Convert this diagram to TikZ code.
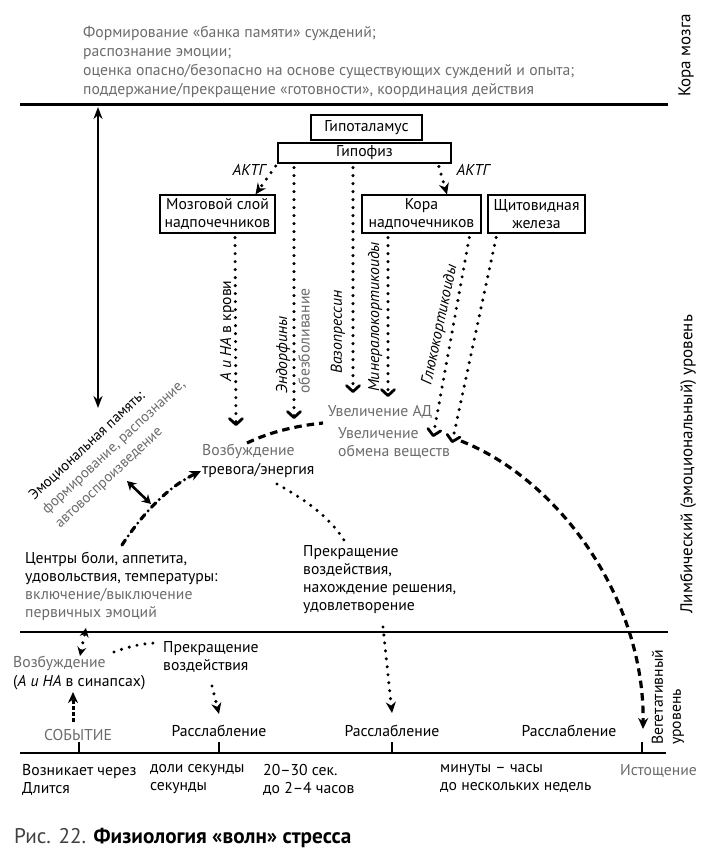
\documentclass[tikz,border=0pt]{standalone}
\usepackage{fontspec}
\setmainfont{PT Sans}
\usetikzlibrary{arrows.meta}
\definecolor{gtxt}{gray}{0.42}
\definecolor{captg}{gray}{0.25}
\newcommand\myfs{\fontsize{15.7}{19}\selectfont}
\newcommand\myfsb{\fontsize{15.7}{18}\selectfont}
\newcommand\myfss{\fontsize{17}{20}\selectfont}
\newcommand\myfse{\fontsize{14.6}{19}\selectfont}
\tikzset{
  box/.style={draw, line width=1.2pt, inner sep=0pt, align=center, font=\myfsb},
  lbl/.style={inner sep=0pt, font=\myfs},
  gr/.style={text=gtxt},
  itl/.style={font=\myfs\itshape},
  dots/.style={line width=3.4pt, line cap=round, dash pattern=on 0pt off 8pt},
  dashes/.style={line width=3.2pt, dash pattern=on 7.5pt off 5pt},
  dashdot/.style={line width=3.2pt, line cap=round, dash pattern=on 6pt off 5pt on 0pt off 5pt},
  vtip/.style={-{Straight Barb[length=6pt,width=13pt,line width=2.8pt,round]}},
  ttip/.style={-{Stealth[length=11pt,width=10pt,inset=3.5pt]}},
  dtip/.style={{Stealth[length=9pt,width=9pt,inset=3pt]}-{Stealth[length=9pt,width=9pt,inset=3pt]}},
  lvl/.style={line width=2.6pt},
}
\begin{document}
\begin{tikzpicture}[x=1pt,y=-1pt]
\useasboundingbox (0,0) rectangle (714,865);
% level lines
\coordinate (L1a) at (20,104); \coordinate (L1b) at (668,104);
\coordinate (L2a) at (20,632); \coordinate (L2b) at (668,632);
\coordinate (L3a) at (20,753); \coordinate (L3b) at (666,753);
\draw[line width=3pt] (L1a) -- (L1b);
\draw[lvl] (L2a) -- (L2b);
\draw[lvl] (L3a) -- (L3b);
\foreach \x in {79,219,392,642} \draw[line width=2.2pt] (\x,742) -- (\x,753);

% cortex text
\node[lbl,gr,anchor=north west,align=left] (cortex) at (83,26)
 {Формирование «банка памяти» суждений;\\распознание эмоции;\\оценка опасно/безопасно на основе существующих суждений и опыта;\\поддержание/прекращение «готовности», координация действия};
\node[lbl,rotate=90,anchor=west,font=\myfss] (kora) at (686,97) {Кора мозга};
\node[lbl,rotate=90,anchor=west,font=\myfss] (limb) at (688,614) {Лимбический (эмоциональный) уровень};
\node[lbl,rotate=90,align=left,font=\myfsb,anchor=west] (veg) at (668,745) {Вегетативный\\уровень};

% boxes
\node[box,minimum width=111pt,minimum height=25pt] (hyp) at (366.5,127.5) {Гипоталамус};
\node[box,minimum width=173pt,minimum height=20pt] (pit) at (364.5,153) {Гипофиз};
\node[box,minimum width=115pt,minimum height=38pt] (med) at (217.5,214) {Мозговой слой\\надпочечников};
\node[box,minimum width=119pt,minimum height=38pt] (cort) at (421.5,214) {Кора\\надпочечников};
\node[box,minimum width=97pt,minimum height=38pt] (thy) at (536.5,214) {Щитовидная\\железа};
\node[lbl,itl] (aktg1) at (249,170) {АКТГ};
\node[lbl,itl] (aktg2) at (473,170) {АКТГ};

% hormone arrows
\coordinate (eAHA) at (236,426);
\coordinate (eEnd) at (294,419);
\coordinate (eVas) at (353,393);
\coordinate (eMin) at (388,397);
\coordinate (eGlu) at (433,437);
\coordinate (eThy) at (452,443);
\draw[dots,ttip,shorten <=3pt] (pit.south west) -- ([xshift=38pt]med.north);
\draw[dots,ttip,shorten <=3pt] ([xshift=73.5pt]pit.south) -- ([xshift=25.5pt]cort.north);
\draw[dots,vtip,shorten <=4pt] ([xshift=17.5pt]med.south) -- (eAHA);
\draw[dots,vtip,shorten <=4pt] ([xshift=-70.5pt]pit.south) -- (eEnd);
\draw[dots,vtip,shorten <=4pt] ([xshift=-11.5pt]pit.south) -- (eVas);
\draw[dots,vtip,shorten <=4pt] ([xshift=-33.5pt]cort.south) -- (eMin);
\draw[dots,vtip,shorten <=4pt] ([xshift=48.5pt]cort.south) -- (eGlu);
\draw[dots,vtip,shorten <=4pt] ([xshift=-39.5pt]thy.south) -- (eThy);

\node[lbl,rotate=90] (lAHA) at (227,331) {\itshape А и НА\upshape{} в крови};
\node[lbl,itl,rotate=90] (lEnd) at (283,355) {Эндорфины};
\node[lbl,gr,rotate=90] (lAna) at (304,341) {обезболивание};
\node[lbl,itl,rotate=90] (lVas) at (338,332) {Вазопрессин};
\node[lbl,itl,rotate=90] (lMin) at (375,317) {Минералокортикоиды};
\node[lbl,itl,rotate=78] (lGlu) at (440,325) {Глюкокортикоиды};

% middle labels
\node[lbl,gr] (bp) at (380,412) {Увеличение АД};
\node[lbl,gr,anchor=north west,align=left,font=\myfsb] (metab) at (338,427) {Увеличение\\обмена веществ};
\node[lbl,anchor=north west,align=left] (arous) at (202,444) {\textcolor{gtxt}{Возбуждение}\\тревога/энергия};
\node[lbl,anchor=north west,align=left,font=\myfsb] (stop1) at (303,545) {Прекращение\\воздействия,\\нахождение решения,\\удовлетворение};
\node[lbl,anchor=north west,align=left,font=\myfsb] (cent) at (25,552) {Центры боли, аппетита,\\удовольствия, температуры:\\\textcolor{gtxt}{включение/выключение}\\\textcolor{gtxt}{первичных эмоций}};
\node[lbl,rotate=43,anchor=north west,align=left,font=\myfse] (emo) at (27,493) {Эмоциональная память:\\\textcolor{gtxt}{формирование, распознание,}\\\textcolor{gtxt}{автовоспроизведение}};

% waves
\coordinate (m1) at (98,107); \coordinate (m2) at (98,408);
\draw[line width=2.2pt,{Stealth[length=12pt,width=9pt]}-{Stealth[length=12pt,width=9pt]}] (m1) -- (m2);
\coordinate (m3) at (127,481); \coordinate (m4) at (151,504);
\draw[line width=2.6pt,{Stealth[length=9pt,width=10pt]}-{Stealth[length=9pt,width=10pt]}] (m3) -- (m4);
\coordinate (w0) at (122,545); \coordinate (w1) at (201,471);
\draw[dashdot,ttip] (w0) .. controls (145,510) and (170,486) .. (w1);
\coordinate (w2) at (247,443); \coordinate (w3) at (323,423);
\draw[dashes] (w2) .. controls (270,432) and (295,426) .. (w3);
\coordinate (w4) at (461,441); \coordinate (w5) at (643,729);
\draw[dashes,ttip] (w4) .. controls (560,480) and (645,600) .. (w5);
\coordinate (w6) at (277,484); \coordinate (w7) at (347,545);
\draw[dots] (w6) .. controls (300,497) and (330,515) .. (w7);
\coordinate (w8) at (383,627); \coordinate (w9) at (392,713);
\draw[dots,ttip] (w8) -- (w9);

% vegetative level
\node[lbl,anchor=north west,align=left] (arous2) at (13,656) {\textcolor{gtxt}{Возбуждение}\\(\textit{А и НА} в синапсах)};
\node[lbl,anchor=north west,align=left,font=\myfsb] (stop2) at (163,641) {Прекращение\\воздействия};
\node[lbl,gr] (event) at (78,735) {СОБЫТИЕ};
\node[lbl] (rel1) at (219,731) {Расслабление};
\node[lbl] (rel2) at (392,731) {Расслабление};
\node[lbl] (rel3) at (569,731) {Расслабление};
\coordinate (v1) at (80,656); \coordinate (v2) at (86,628);
\draw[dots,dtip] (v1) -- (v2);
\coordinate (v3) at (73,722); \coordinate (v4) at (73,692);
\draw[line width=3pt,dash pattern=on 4pt off 2pt,ttip] (v3) -- (v4);
\coordinate (v5) at (114,652); \coordinate (v6) at (157,643);
\draw[dots] (v5) .. controls (130,646) and (145,643) .. (v6);
\coordinate (v7) at (212,686); \coordinate (v8) at (219,714);
\draw[dots,ttip] (v7) -- (v8);

% time scale
\node[lbl,anchor=north west,align=left,font=\myfsb] (t1) at (22,764) {Возникает через\\Длится};
\node[lbl,anchor=north west,align=left,font=\myfsb] (t2) at (150,764) {доли секунды\\секунды};
\node[lbl,anchor=north west,align=left,font=\myfsb] (t3) at (263,764) {20–30 сек.\\до 2–4 часов};
\node[lbl,anchor=north west,align=left,font=\myfsb] (t4) at (440,764) {минуты – часы\\до нескольких недель};
\node[lbl,gr,anchor=north west] (t5) at (620,764) {Истощение};

% caption
\node[lbl,anchor=west,font=\fontsize{21.2}{25}\selectfont] (cap) at (14,838) {\textcolor{captg}{Рис. 22.} \textbf{Физиология «волн» стресса}};
\end{tikzpicture}
\end{document}
